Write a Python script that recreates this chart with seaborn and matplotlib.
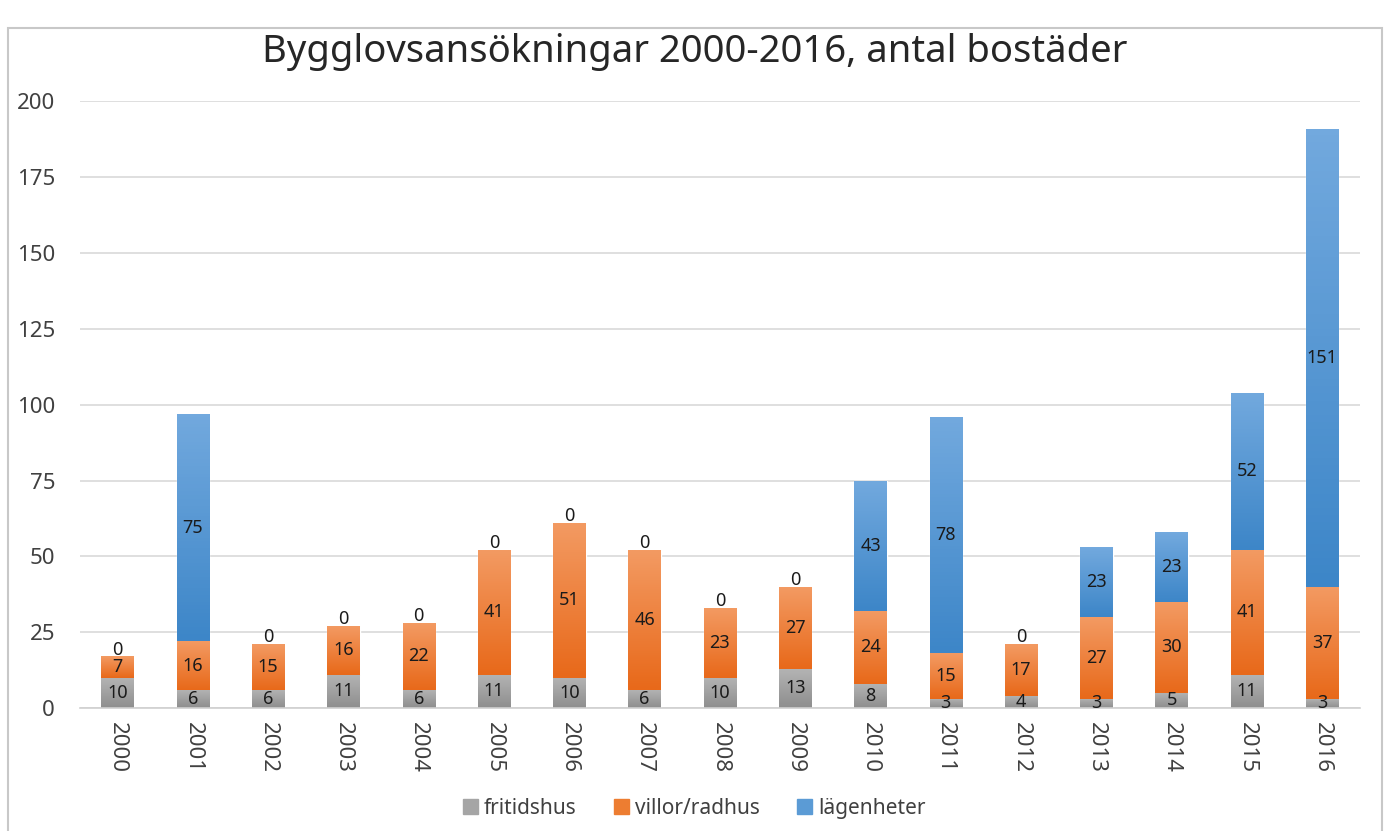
import matplotlib
matplotlib.use("Agg")
import matplotlib.pyplot as plt
import matplotlib.patches as mpatches
from matplotlib.colors import LinearSegmentedColormap
import seaborn as sns
import numpy as np
import pandas as pd

# Data
years = [str(y) for y in range(2000, 2017)]
fritidshus = [10, 6, 6, 11, 6, 11, 10, 6, 10, 13, 8, 3, 4, 3, 5, 11, 3]
villor = [7, 16, 15, 16, 22, 41, 51, 46, 23, 27, 24, 15, 17, 27, 30, 41, 37]
lagenheter = [0, 75, 0, 0, 0, 0, 0, 0, 0, 0, 43, 78, 0, 23, 23, 52, 151]

series = ["fritidshus", "villor/radhus", "lägenheter"]
values = [fritidshus, villor, lagenheter]
# (top colour, bottom colour) for the excel-like gradient
grads = [("#b4b4b4", "#8e8e8e"), ("#f39a62", "#e8691a"), ("#72a9de", "#3d86c8")]
solid = ["#a5a5a5", "#ed7d31", "#5b9bd5"]

sns.set_theme(style="white")
plt.rcParams["font.family"] = ["Noto Sans", "DejaVu Sans"]
text_col = "#404040"

fig = plt.figure(figsize=(13.89, 8.31), dpi=100)
ax = fig.add_axes([0.0576, 0.148, 0.9214, 0.730])

bottom = np.zeros(len(years))
for name, vals, col, (ctop, cbot) in zip(series, values, solid, grads):
    df = pd.DataFrame({"year": years, "value": vals})
    sns.barplot(data=df, x="year", y="value", color=col, bottom=bottom,
                width=0.43, ax=ax, saturation=1)
    bars = ax.containers[-1]
    cmap = LinearSegmentedColormap.from_list(name, [cbot, ctop])
    for p in bars:
        h = p.get_height()
        if h <= 0:
            continue
        x0, y0 = p.get_x(), p.get_y()
        im = ax.imshow(np.linspace(0, 1, 64).reshape(-1, 1), cmap=cmap,
                       origin="lower", aspect="auto",
                       extent=[x0, x0 + p.get_width(), y0, y0 + h], zorder=2.5)
        im.set_clip_path(p)
    ax.bar_label(bars, labels=[str(v) if v else "" for v in vals],
                 label_type="center", fontsize=13, color="#1a1a1a", zorder=5)
    # zero-height segments: label sits on top of the stack, nudged up a bit
    for i, v in enumerate(vals):
        if v == 0:
            ax.annotate("0", (i, bottom[i]), xytext=(0, 5),
                        textcoords="offset points", ha="center", va="center",
                        fontsize=13, color="#1a1a1a", zorder=5)
    bottom = bottom + np.array(vals)

if ax.get_legend() is not None:
    ax.get_legend().remove()

ax.set_xlim(-0.5, len(years) - 0.5)
ax.set_ylim(0, 200)
ax.set_yticks(range(0, 201, 25))
ax.yaxis.grid(True, color="#d9d9d9", linewidth=1.2)
ax.set_axisbelow(True)
ax.set_xlabel("")
ax.set_ylabel("")
for s in ["top", "right", "left"]:
    ax.spines[s].set_visible(False)
ax.spines["bottom"].set_color("#d0d0d0")
ax.spines["bottom"].set_linewidth(1.2)
ax.tick_params(axis="y", labelsize=16, labelcolor=text_col, length=0, pad=18)
ax.tick_params(axis="x", labelsize=16, labelcolor=text_col, length=0, pad=10)
for lbl in ax.get_xticklabels():
    lbl.set_rotation(270)

fig.text(0.5, 0.938, "Bygglovsansökningar 2000-2016, antal bostäder",
         fontsize=27.5, color="#262626", ha="center", va="center")

handles = [mpatches.Patch(color=c) for c in solid]
fig.legend(handles, series, loc="center", bbox_to_anchor=(0.5, 0.027), ncol=3,
           frameon=False, fontsize=15, labelcolor=text_col, handlelength=0.7,
           handleheight=0.7, handletextpad=0.3, columnspacing=1.8)

fig.patches.append(mpatches.Rectangle((0.006, -0.01), 0.989, 0.976,
                                      transform=fig.transFigure, fill=False,
                                      edgecolor="#c8c8c8", linewidth=1.5))

fig.savefig("out.png", dpi=100)
